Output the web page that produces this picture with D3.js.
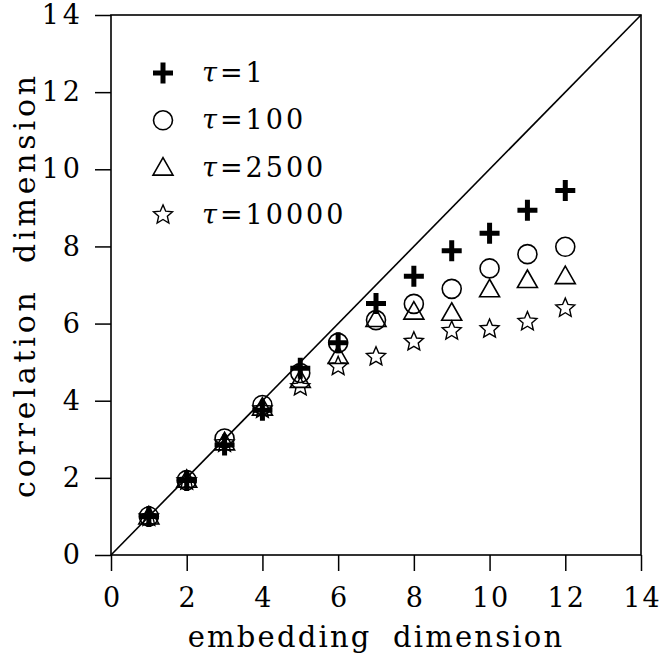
<!DOCTYPE html>
<html>
<head>
<meta charset="utf-8">
<script src="https://cdn.jsdelivr.net/npm/d3@7"></script>
<style>
  body { margin: 0; background: #fff; }
  text { font-family: "DejaVu Serif", serif; fill: #000; }
</style>
</head>
<body>
<div id="chart"></div>
<script>
const dims = [1, 2, 3, 4, 5, 6, 7, 8, 9, 10, 11, 12];
const tau1 = [1.0, 1.93, 2.85, 3.75, 4.84, 5.50, 6.52, 7.23, 7.89, 8.34, 8.94, 9.45];
const tau100 = [1.0, 1.94, 3.02, 3.89, 4.72, 5.50, 6.09, 6.51, 6.90, 7.43, 7.80, 7.99];
const tau2500 = [1.0, 1.95, 2.92, 3.82, 4.54, 5.16, 6.12, 6.31, 6.28, 6.89, 7.13, 7.23];
const tau10000 = [0.98, 1.92, 2.90, 3.78, 4.36, 4.89, 5.14, 5.53, 5.81, 5.86, 6.05, 6.40];
const tickValues = [0, 2, 4, 6, 8, 10, 12, 14];
const legendLabels = ["1", "100", "2500", "10000"];

const width = 661;
const height = 657;
const margin = { left: 111, right: 20, top: 15, bottom: 102 };

const svg = d3.select("#chart")
  .append("svg")
  .attr("width", width)
  .attr("height", height);

const x = d3.scaleLinear().domain([0, 14]).range([margin.left, width - margin.right]);
const y = d3.scaleLinear().domain([0, 14]).range([height - margin.bottom, margin.top]);

// marker shapes
const starPath = (() => {
  const pts = [];
  for (let i = 0; i < 10; i++) {
    const r = i % 2 === 0 ? 10 : 4.6;
    const a = -Math.PI / 2 + i * Math.PI / 5;
    pts.push([r * Math.cos(a), r * Math.sin(a)]);
  }
  return "M" + pts.map(p => p.join(",")).join("L") + "Z";
})();

const shapes = {
  plus: g => g.append("path").attr("d", "M-10,0H10M0,-10.5V10.5")
    .attr("stroke", "#000").attr("stroke-width", 5).attr("fill", "none"),
  circle: g => g.append("circle").attr("r", 9.5)
    .attr("stroke", "#000").attr("stroke-width", 1.6).attr("fill", "none"),
  triangle: g => g.append("path").attr("d", "M0,-10L10,7.5L-10,7.5Z")
    .attr("stroke", "#000").attr("stroke-width", 1.6).attr("fill", "none")
    .attr("stroke-linejoin", "miter"),
  star: g => g.append("path").attr("d", starPath)
    .attr("stroke", "#000").attr("stroke-width", 1.4).attr("fill", "none")
};

const series = [
  { values: tau10000, shape: "star" },
  { values: tau2500, shape: "triangle" },
  { values: tau100, shape: "circle" },
  { values: tau1, shape: "plus" }
];

// frame
svg.append("rect")
  .attr("x", x(0)).attr("y", y(14))
  .attr("width", x(14) - x(0)).attr("height", y(0) - y(14))
  .attr("fill", "none").attr("stroke", "#000").attr("stroke-width", 1.6);

// axes
const xAxis = svg.append("g")
  .attr("transform", `translate(0,${y(0)})`)
  .call(d3.axisBottom(x).tickValues(tickValues).tickSize(16).tickPadding(17));
const yAxis = svg.append("g")
  .attr("transform", `translate(${x(0)},0)`)
  .call(d3.axisLeft(y).tickValues(tickValues).tickSize(16).tickPadding(11));

[xAxis, yAxis].forEach(a => {
  a.select(".domain").remove();
  a.selectAll(".tick line").attr("stroke", "#000").attr("stroke-width", 1.5);
  a.selectAll(".tick text")
    .attr("font-family", "DejaVu Serif").attr("font-size", 27)
    .attr("letter-spacing", 2).attr("fill", "#000");
});
xAxis.selectAll(".tick text").attr("dy", "0.71em").attr("dx", 1);
yAxis.selectAll(".tick text").attr("letter-spacing", 4);

// diagonal
svg.append("line")
  .attr("x1", x(0)).attr("y1", y(0))
  .attr("x2", x(14)).attr("y2", y(14))
  .attr("stroke", "#000").attr("stroke-width", 1.6);

// points
series.forEach(s => {
  s.values.forEach((v, i) => {
    const g = svg.append("g").attr("transform", `translate(${x(dims[i])},${y(v)})`);
    shapes[s.shape](g);
  });
});

// legend
const legendShapes = ["plus", "circle", "triangle", "star"];
legendShapes.forEach((sh, i) => {
  const ly = 73 + i * 47.3;
  const g = svg.append("g").attr("transform", `translate(163,${ly})`);
  shapes[sh](g);
  const t = svg.append("text")
    .attr("x", 202).attr("y", ly + 9)
    .attr("font-size", 27)
    .attr("letter-spacing", 3);
  t.append("tspan").attr("font-style", "italic").text("τ");
  t.append("tspan").text("=" + legendLabels[i]);
});

// axis titles
svg.append("text")
  .attr("x", (x(0) + x(14)) / 2).attr("y", 647)
  .attr("text-anchor", "middle")
  .attr("font-size", 29)
  .attr("letter-spacing", 2.2)
  .attr("word-spacing", 10)
  .text("embedding dimension");

svg.append("text")
  .attr("transform", `translate(35,${(y(0) + y(14)) / 2}) rotate(-90)`)
  .attr("text-anchor", "middle")
  .attr("font-size", 30)
  .attr("letter-spacing", 3.8)
  .attr("word-spacing", 12)
  .text("correlation dimension");
</script>
</body>
</html>
